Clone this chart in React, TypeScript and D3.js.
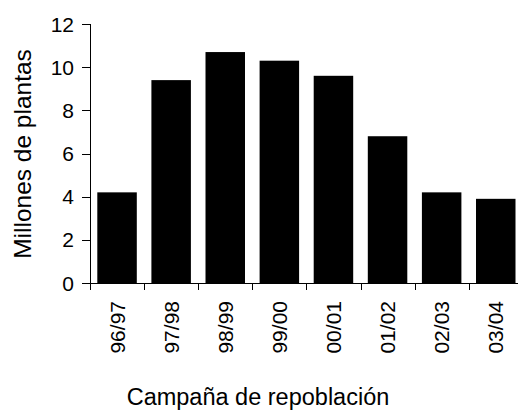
import { useEffect, useRef } from "react";
import * as d3 from "d3";

const campaigns = ["96/97", "97/98", "98/99", "99/00", "00/01", "01/02", "02/03", "03/04"];
const plants = [4.2, 9.4, 10.7, 10.3, 9.6, 6.8, 4.2, 3.9];
const yTicks = [0, 2, 4, 6, 8, 10, 12];

const FONT = "'Liberation Sans', Arial, sans-serif";

function Chart() {
    const ref = useRef<SVGSVGElement>(null);

    useEffect(() => {
        const svg = d3.select(ref.current);
        svg.selectAll("*").remove();

        const left = 90, top = 24, bottom = 283;

        const x = d3.scaleBand<string>()
            .domain(campaigns)
            .range([left, 522.8])
            .paddingInner(0.27)
            .paddingOuter(0.135);
        const y = d3.scaleLinear().domain([0, 12]).range([bottom, top]);

        const g = svg.append("g");

        // bars
        g.selectAll("rect")
            .data(plants)
            .join("rect")
            .attr("x", (d, i) => x(campaigns[i])!)
            .attr("y", d => y(d))
            .attr("width", x.bandwidth())
            .attr("height", d => y(0) - y(d))
            .attr("fill", "#000");

        // y axis
        g.append("line")
            .attr("x1", left + 0.5).attr("x2", left + 0.5)
            .attr("y1", y(12)).attr("y2", y(0))
            .attr("stroke", "#000");
        g.selectAll(".ytick")
            .data(yTicks)
            .join("line")
            .attr("class", "ytick")
            .attr("x1", left - 8).attr("x2", left)
            .attr("y1", d => Math.round(y(d)) + 0.5)
            .attr("y2", d => Math.round(y(d)) + 0.5)
            .attr("stroke", "#000");
        g.selectAll(".ylab")
            .data(yTicks)
            .join("text")
            .attr("class", "ylab")
            .attr("x", 74)
            .attr("y", d => y(d))
            .attr("dy", "0.36em")
            .attr("text-anchor", "end")
            .style("font-family", FONT)
            .style("font-size", "21px")
            .text(d => d);

        // x axis, ticks on the category boundaries
        const half = (x.step() - x.bandwidth()) / 2;
        const bounds = campaigns.map(c => x(c)! - half).concat([x(campaigns[campaigns.length - 1])! + x.bandwidth() + half]);
        g.append("line")
            .attr("x1", left).attr("x2", 522.8)
            .attr("y1", bottom + 0.5).attr("y2", bottom + 0.5)
            .attr("stroke", "#000");
        g.selectAll(".xtick")
            .data(bounds)
            .join("line")
            .attr("class", "xtick")
            .attr("x1", d => Math.round(d) + 0.5).attr("x2", d => Math.round(d) + 0.5)
            .attr("y1", bottom).attr("y2", bottom + 7)
            .attr("stroke", "#000");
        g.selectAll(".xlab")
            .data(campaigns)
            .join("text")
            .attr("class", "xlab")
            .attr("transform", d => `translate(${x(d)! + x.bandwidth() / 2}, 301) rotate(-90)`)
            .attr("dy", "0.36em")
            .attr("text-anchor", "end")
            .style("font-family", FONT)
            .style("font-size", "21px")
            .text(d => d);

        // axis titles
        svg.append("text")
            .attr("x", 258)
            .attr("y", 405)
            .attr("text-anchor", "middle")
            .style("font-family", FONT)
            .style("font-size", "23.5px")
            .text("Campaña de repoblación");
        svg.append("text")
            .attr("transform", "translate(31, 154) rotate(-90)")
            .attr("text-anchor", "middle")
            .style("font-family", FONT)
            .style("font-size", "24.5px")
            .text("Millones de plantas");
    }, []);

    return (
        <svg ref={ref} width={518} height={412}
            style={{ position: "absolute", left: 0, top: 0, background: "#fff" }} />
    );
}

export default function App() {
    return <Chart />;
}
